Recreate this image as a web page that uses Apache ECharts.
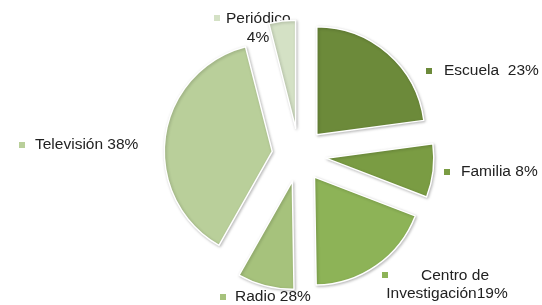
<!DOCTYPE html>
<html><head><meta charset="utf-8">
<script src="https://cdn.jsdelivr.net/npm/echarts@6/dist/echarts.min.js"></script>
<style>html,body{margin:0;padding:0;background:#fff;}#c{width:542px;height:305px;}</style>
</head><body><div id="c"></div>
<script>
var categories = ['Escuela', 'Familia', 'Centro de Investigación', 'Radio', 'Televisión', 'Periódico'];
var values = [23, 8, 19, 8.5, 38, 4];
var labelLines = [['Escuela  23%'], ['Familia 8%'], ['Centro de', 'Investigación19%'], ['Radio 28%'], ['Televisión 38%'], ['Periódico', '4%']];
var colors = ['#6c8a3a', '#7a9c43', '#8db357', '#a6c27c', '#b9cf9a', '#d4e1c5'];
// label layout: marker centre and text line anchors
var labelLayout = [
  {m: [429, 71], t: [[444, 71, 'left']]},
  {m: [447, 172], t: [[461, 172, 'left']]},
  {m: [385, 275], t: [[455, 276, 'center'], [447, 294, 'center']]},
  {m: [223, 297], t: [[235, 297, 'left']]},
  {m: [22, 145], t: [[35, 145, 'left']]},
  {m: [217, 18], t: [[226, 19, 'left'], [258, 38, 'center']]}
];
var FONT = 'Liberation Sans, Arial, sans-serif';
var FS = 15.5;
var chart = echarts.init(document.getElementById('c'), null, {renderer: 'canvas'});
var data = categories.map(function (c, i) {
  return {name: c, value: values[i], selected: true, itemStyle: {color: colors[i]}};
});
var graphics = [];
labelLayout.forEach(function (L, i) {
  graphics.push({type: 'rect', shape: {x: L.m[0] - 3, y: L.m[1] - 3, width: 6, height: 6}, style: {fill: colors[i]}, silent: true});
  L.t.forEach(function (t, j) {
    graphics.push({type: 'text', x: t[0], y: t[1], silent: true,
      style: {text: labelLines[i][j], fill: '#222', font: FS + 'px ' + FONT, align: t[2], verticalAlign: 'middle'}});
  });
});
chart.setOption({
  animation: false,
  graphic: graphics,
  series: [{
    type: 'pie',
    center: [299, 155],
    radius: [0, 108],
    startAngle: 90,
    clockwise: true,
    selectedMode: 'multiple',
    selectedOffset: 27,
    itemStyle: {borderColor: '#ffffff', borderWidth: 1.5, shadowColor: 'rgba(0,0,0,0.25)', shadowBlur: 3, shadowOffsetX: 1, shadowOffsetY: 1},
    emphasis: {disabled: true},
    label: {show: false},
    labelLine: {show: false},
    data: data
  }]
});
</script></body></html>
